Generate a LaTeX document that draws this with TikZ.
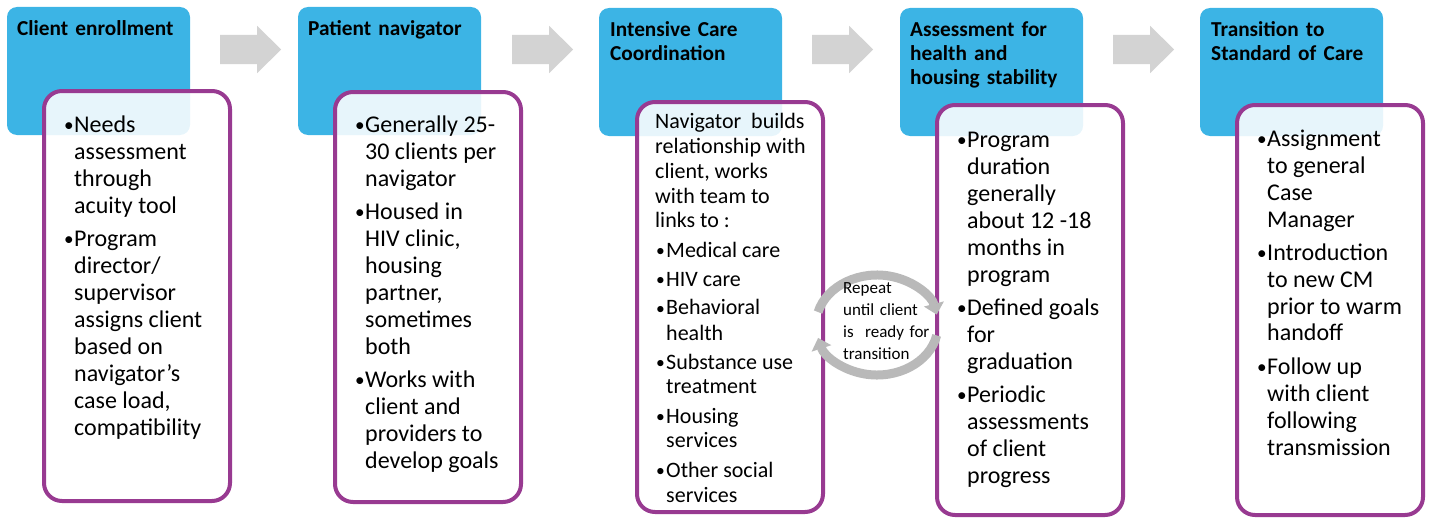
\documentclass[tikz,border=0pt]{standalone}
\usepackage{fontspec}
\setmainfont{Carlito}
\usetikzlibrary{arrows.meta, positioning, shapes.arrows}
\definecolor{hdrblue}{RGB}{60,180,229}
\definecolor{boxpurple}{RGB}{152,58,145}
\definecolor{flowgray}{RGB}{211,211,211}
\definecolor{cyclegray}{RGB}{185,185,185}
\newcommand{\dotmark}{\raisebox{1pt}{\scalebox{0.8}{•}}}
\tikzstyle{header} = [rectangle, rounded corners=10pt, minimum width=183pt, minimum height=128pt, fill=hdrblue, inner sep=0pt, outer sep=0pt, anchor=north west]
\tikzstyle{hdrtext} = [anchor=base west, inner sep=0pt, text width=175pt, align=left, font=\bfseries\fontsize{21.3}{24}\selectfont]
\tikzstyle{box} = [rectangle, rounded corners=18pt, minimum width=186pt, minimum height=410pt, draw=boxpurple, line width=4pt, fill=white, fill opacity=0.88, inner sep=0pt]
\tikzstyle{boxtext} = [anchor=base west, inner sep=0pt, font=\fontsize{24}{27}\selectfont]
\tikzstyle{flow} = [single arrow, single arrow head extend=9pt, single arrow tip angle=89, minimum height=61pt, inner xsep=0pt, inner ysep=14.5pt, fill=flowgray, anchor=tail]
\tikzstyle{cyclearrow} = [line width=9pt, draw=cyclegray, -{Triangle[length=11pt, width=20pt]}]

\begin{document}
\begin{tikzpicture}[x=1pt, y=-1pt]
\useasboundingbox (0,0) rectangle (1432,519);

% blue step headers
\node[header] (enrol) at (7,7) {};
\node[header] (navig) at (298,7) {};
\node[header] (icc) at (599,8) {};
\node[header] (assess) at (900,8) {};
\node[header] (trans) at (1200,8) {};

\node[hdrtext] (enroltitle) at ([shift={(10pt,-29pt)}]enrol.north west) {Client enrollment};
\node[hdrtext] (navigtitle) at ([shift={(10pt,-29pt)}]navig.north west) {Patient navigator};
\node[hdrtext] (icctitle) at ([shift={(11pt,-29pt)}]icc.north west) {Intensive Care\\Coordination};
\node[hdrtext] (assesstitle) at ([shift={(10pt,-29pt)}]assess.north west) {Assessment for\\health and\\housing stability};
\node[hdrtext] (transtitle) at ([shift={(11pt,-29pt)}]trans.north west) {Transition to\\Standard of Care};

% purple detail boxes, half over the headers
\node[box, below right=82pt and 35pt of enrol.north west] (enrolbox) {};
\node[box, below right=83pt and 35pt of navig.north west] (navigbox) {};
\node[box, below right=92pt and 36pt of icc.north west] (iccbox) {};
\node[box, below right=95pt and 35pt of assess.north west] (assessbox) {};
\node[box, below right=95pt and 35pt of trans.north west] (transbox) {};

\node[boxtext] (enroltext) at ([shift={(22pt,-43pt)}]enrolbox.north west) {%
\begin{tabular}[t]{@{}p{10pt}@{}l@{}}
\dotmark&Needs\\ &assessment\\ &through\\ &acuity tool\\[6pt]
\dotmark&Program\\ &director/\\ &supervisor\\ &assigns client\\ &based on\\ &navigator’s\\ &case load,\\ &compatibility
\end{tabular}};

\node[boxtext] (navigtext) at ([shift={(22pt,-42pt)}]navigbox.north west) {%
\begin{tabular}[t]{@{}p{10pt}@{}l@{}}
\dotmark&Generally 25-\\ &30 clients per\\ &navigator\\[6pt]
\dotmark&Housed in\\ &HIV clinic,\\ &housing\\ &partner,\\ &sometimes\\ &both\\[6pt]
\dotmark&Works with\\ &client and\\ &providers to\\ &develop goals
\end{tabular}};

\node[boxtext, font=\fontsize{22}{25}\selectfont] (icctext) at ([shift={(20pt,-28pt)}]iccbox.north west) {%
\begin{tabular}[t]{@{\hspace{1pt}}p{10pt}@{}l@{}}
\multicolumn{2}{@{}l@{}}{Navigator\ \ builds}\\
\multicolumn{2}{@{}l@{}}{relationship with}\\
\multicolumn{2}{@{}l@{}}{client, works}\\
\multicolumn{2}{@{}l@{}}{with team to}\\
\multicolumn{2}{@{}l@{}}{links to :}\\[4pt]
\dotmark&Medical care\\[4pt]
\dotmark&HIV care\\[4pt]
\dotmark&Behavioral\\ &health\\[4pt]
\dotmark&Substance use\\ &treatment\\[4pt]
\dotmark&Housing\\ &services\\[4pt]
\dotmark&Other social\\ &services
\end{tabular}};

\node[boxtext] (assesstext) at ([shift={(22pt,-44pt)}]assessbox.north west) {%
\begin{tabular}[t]{@{}p{10pt}@{}l@{}}
\dotmark&Program\\ &duration\\ &generally\\ &about 12 -18\\ &months in\\ &program\\[6pt]
\dotmark&Defined goals\\ &for\\ &graduation\\[6pt]
\dotmark&Periodic\\ &assessments\\ &of client\\ &progress
\end{tabular}};

\node[boxtext] (transtext) at ([shift={(22pt,-43pt)}]transbox.north west) {%
\begin{tabular}[t]{@{}p{10pt}@{}l@{}}
\dotmark&Assignment\\ &to general\\ &Case\\ &Manager\\[6pt]
\dotmark&Introduction\\ &to new CM\\ &prior to warm\\ &handoff\\[6pt]
\dotmark&Follow up\\ &with client\\ &following\\ &transmission
\end{tabular}};

% gray block arrows between the headers
\node[flow] (flow1) at (220,49.5) {};
\node[flow] (flow2) at (512,49.5) {};
\node[flow] (flow3) at (812,49.5) {};
\node[flow] (flow4) at (1113,49.5) {};

% repeat loop
\coordinate (cyc) at (877,325);
\draw[cyclearrow] ([shift={(165:61pt and 50pt)}]cyc) arc[start angle=165, end angle=12, x radius=61pt, y radius=50pt];
\draw[cyclearrow] ([shift={(-12:61pt and 50pt)}]cyc) arc[start angle=-12, end angle=-165, x radius=61pt, y radius=50pt];
\node[anchor=base west, inner sep=0pt, text width=90pt, align=left, font=\fontsize{17}{22}\selectfont] (repeat) at (843,293) {Repeat\\until client\\is\ \ ready for\\transition};
\end{tikzpicture}
\end{document}
